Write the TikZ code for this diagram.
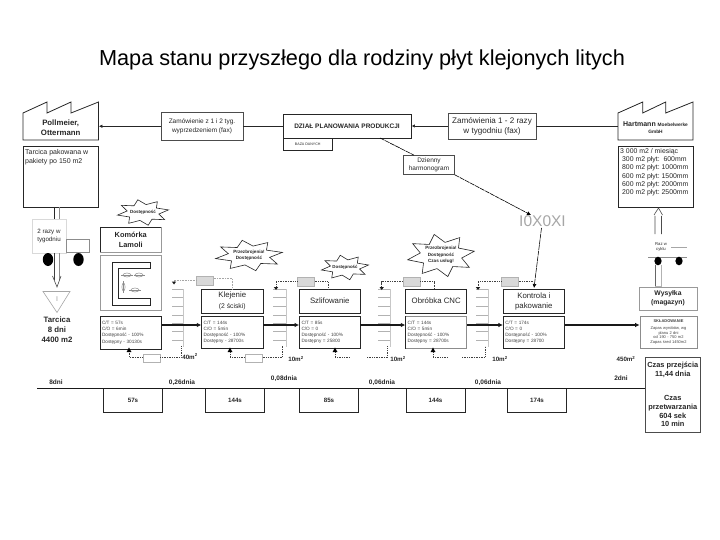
\documentclass[tikz,border=0pt]{standalone}
\usepackage{fontspec}
\setmainfont{Liberation Sans}
\usetikzlibrary{arrows.meta}
\begin{document}
\begin{tikzpicture}[x=1pt,y=-1pt,
 base/.style={inner sep=0pt,align=center,font=\fontsize{6}{8}\selectfont,text=black!85},
 bx/.style={base,draw=black!85,line width=.7pt},
 gbx/.style={base,draw=black!40,line width=.7pt},
 data/.style={base,draw=black!85,line width=.7pt,align=left,text width=\www pt-4pt,font=\fontsize{4.7}{6.2}\selectfont,text=black!75},
 gdata/.style={data,draw=black!45},
 proc/.style={bx,font=\fontsize{7.8}{10.5}\selectfont},
 lab/.style={inner sep=0pt,font=\bfseries\fontsize{6.2}{7.5}\selectfont,text=black!85},
 tlab/.style={lab,font=\bfseries\fontsize{6.5}{8}\selectfont},
 ebox/.style={base,draw=black!85,line width=.7pt,font=\bfseries\fontsize{6.2}{7}\selectfont},
 flow/.style={line width=1.1pt,black!90,-{Latex[length=4.5pt,width=4.5pt]}},
 thin arrow/.style={line width=.7pt,black!85,-{Latex[length=3.5pt,width=3.5pt]}},
 sched/.style={line width=.6pt,black,dash pattern=on 5pt off .7pt,-{Latex[length=4pt,width=4pt]}},
 wd/.style={line width=.6pt,black!55,densely dotted},
 wdb/.style={line width=.7pt,black!75,densely dotted},
 card/.style={draw=black!30,fill=black!15,line width=.5pt,inner sep=0pt,minimum width=17pt,minimum height=9pt},
 wcard/.style={draw=black!30,fill=white,line width=.5pt,inner sep=0pt,minimum width=17pt,minimum height=8pt},
 burst/.style={draw=black!85,line width=.6pt,fill=white},
 tick/.style={black!30,line width=.6pt},
 dbl/.style={black!45,line width=.7pt},
 wheel/.style={fill=black,draw=none},
 fac/.style={draw=black!85,line width=.8pt,fill=white},
]
\useasboundingbox (0,0) rectangle (720,540);
\newcommand{\bxn}[7][bx]{\pgfmathsetmacro{\cxx}{(#3+#5)/2}\pgfmathsetmacro{\cyy}{(#4+#6)/2}\pgfmathsetmacro{\www}{#5-#3}\pgfmathsetmacro{\hhh}{#6-#4}\node[#1,minimum width=\www pt,minimum height=\hhh pt] (#2) at (\cxx,\cyy) {#7};}
\newcommand{\burstat}[4]{\draw[burst] plot[samples at={0,...,15}] ({#1+(#3)*(.62+.38*mod(\x,2))*cos(\x*22.5+11)},{#2+(#4)*(.62+.38*mod(\x,2))*sin(\x*22.5+11)}) -- cycle;}

\node[font=\fontsize{21.7}{26}\selectfont] (title) at (362,59.5) {Mapa stanu przyszłego dla rodziny płyt klejonych litych};

% factories
\draw[fac] (23,113)--(47,102)--(47,113)--(71,102)--(71,113)--(98.5,102)--(98.5,140)--(23,140)--cycle;
\node[base,font=\bfseries\fontsize{7.8}{10}\selectfont] (f1) at (60.7,127.5) {Pollmeier,\\Ottermann};
\draw[fac] (618,113)--(642.7,102)--(642.7,113)--(665.7,102)--(665.7,113)--(693,102)--(693,140)--(618,140)--cycle;
\node[base,font=\bfseries\fontsize{7}{8}\selectfont] (f2) at (655.5,128) {Hartmann {\fontsize{4.8}{6}\selectfont Moebelwerke}\\[-1pt]{\fontsize{4.8}{6}\selectfont GmbH}};

\bxn{s1}{23}{146.5}{98.5}{207}{}
\node[base,align=left,anchor=north west,font=\fontsize{7}{8.8}\selectfont] (s1t) at (25,149.5) {Tarcica pakowana w\\pakiety po 150 m2};
\bxn{s2}{618}{146}{693}{207}{}
\node[base,align=left,anchor=north west,font=\fontsize{6.9}{8.15}\selectfont] (s2t) at (620,148.5) {3 000 m2 / miesiąc\\\ 300 m2 płyt:\ \ 600mm\\\ 800 m2 płyt:\ 1000mm\\\ 600 m2 płyt:\ 1500mm\\\ 600 m2 płyt:\ 2000mm\\\ 200 m2 płyt:\ 2500mm};

% top row
\bxn[bx,draw=black!70,font=\fontsize{6.5}{9.5}\selectfont]{z1}{161}{112}{243}{140.5}{Zamówienie z 1 i 2 tyg.\\wyprzedzeniem (fax)}
\bxn[bx,font=\bfseries\fontsize{6.5}{7}\selectfont,line width=.9pt]{dz}{283}{114}{411}{138}{DZIAŁ PLANOWANIA PRODUKCJI}
\bxn[bx,font=\fontsize{3.6}{5}\selectfont]{baza}{283}{138}{332.5}{150.5}{BAZA DANYCH}
\bxn[bx,draw=black!70,font=\fontsize{8.1}{10}\selectfont]{z2}{448}{113}{536}{139}{Zamówienia 1 - 2 razy\\w tygodniu (fax)}
\bxn[bx,draw=black!70,font=\fontsize{6.5}{7.8}\selectfont]{har}{403.5}{155.5}{454.5}{174.5}{Dzienny\\harmonogram}
\draw[thin arrow] (z1.west) -- (s1.east |- z1.west);
\draw[line width=.7pt,black!85] (dz.west |- z1.west) -- (z1.east);
\draw[thin arrow] (z2.west) -- (dz.east |- z2.west);
\draw[line width=.7pt,black!85] (z2.east) -- (s2.west |- z2.east);
\draw[line width=.6pt,black,dash pattern=on 5pt off .7pt] (380,138) -- (har.north east -| 414,155.5);

% heijunka
\node[inner sep=0pt,text=black!35,font=\fontsize{15.5}{15.5}\selectfont] (hei) at (542.5,221) {I0X0XI};
\draw[sched] (har.south east) -- (531,215);

% left truck
\coordinate (tl1) at (54.5,207); \coordinate (tl2) at (59,207);
\draw[dbl,black!85] (tl1) -- (54.5,219);
\draw[dbl] (tl2) -- (59,219);
\bxn[base,draw=black!15,font=\fontsize{6.2}{8.5}\selectfont,line width=.4pt]{t1}{32}{219}{66}{253}{2 razy w\\tygodniu}
\bxn[base,draw=black!45,line width=.6pt]{t1b}{66}{239}{89.5}{252.5}{}
\draw[wheel] (48,259.5) ellipse (5.2pt and 6.5pt);
\draw[wheel] (78.5,259.5) ellipse (5.2pt and 6.5pt);
\draw[black!75,line width=.7pt] (54.5,253)--(54.5,280);
\draw[black!45,line width=.7pt] (59,253)--(59,280);
\draw[black!70,line width=.6pt] (52.5,276)--(57,287)--(61,276);
\coordinate (arr1) at (57,287);
% inventory triangle
\draw[draw=black!35,line width=.6pt] (43,291.5)--(70,291.5)--(57,312.5)--cycle;
\node[inner sep=0pt,text=black!40,font=\fontsize{7}{7}\selectfont] (tri1) at (57,299) {I};
\node[base,font=\bfseries\fontsize{7.8}{10.2}\selectfont] (ta) at (57,330) {Tarcica\\8 dni\\4400 m2};

% Right truck
\node[base,font=\fontsize{4.2}{5}\selectfont] (t2) at (661,247) {Raz w\\cyklu};
\draw[black!35,line width=.6pt] (671,247)--(687,247);
\draw[black!45,line width=.7pt] (648,257)--(687,257);
\draw[wheel] (658,261) ellipse (3.6pt and 4.3pt);
\draw[wheel] (679,261) ellipse (3.6pt and 4.3pt);
\draw[black!70,line width=.6pt] (655,234)--(655,216) (661.5,234)--(661.5,216) (654,215)--(658.5,208)--(662.5,215);
\draw[black!60,line width=.7pt] (655,265)--(655,287);
\draw[black!30,line width=.7pt] (661.5,265)--(661.5,287);
\draw[black!30,line width=.7pt] (655,286)--(661.5,286);

% Komorka
\burstat{143}{212.5}{26}{13}
\node[base,font=\bfseries\fontsize{4.5}{5}\selectfont] (b1) at (143,212) {Dostępność};
\bxn[gbx,font=\bfseries\fontsize{7.4}{10}\selectfont]{kom}{100.5}{227}{161}{252}{Komórka\\Lamoli}
\draw[black!85,line width=.5pt] (100.5,227)--(161,227) (100.5,227)--(100.5,252);
\bxn[gbx]{komb}{100.5}{255}{161.5}{310}{}
\draw[black!85,line width=.7pt] (150,262)--(112,262)--(112,305)--(150,305)--(150,298)--(118.5,298)--(118.5,268)--(150,268)--cycle;
\foreach \ox/\oy/\orx/\ory in {127/275/4/2,139/275/4/2,123.5/287/1.6/4,135/290/4/2}{
  \draw[black!45,line width=.5pt] (\ox,\oy) ellipse (\orx pt and \ory pt);}
\draw[black!45,line width=.4pt] (121,275)--(133,275) (134,275)--(145,275) (129,290)--(141,290) (123.5,281)--(123.5,293);

% process boxes
\bxn[proc]{p2}{201.5}{289}{263}{313}{Klejenie\\{\fontsize{6.8}{9}\selectfont (2 ściski)}}
\bxn[proc]{p3}{299.5}{289}{360}{313}{Szlifowanie}
\bxn[proc]{p4}{405.7}{289}{466.7}{313}{Obróbka CNC}
\bxn[proc]{p5}{503.3}{289}{564.3}{313.5}{Kontrola i\\pakowanie}
\bxn[gbx,font=\bfseries\fontsize{6.8}{9.5}\selectfont]{p6}{639}{287}{697}{310}{Wysyłka\\(magazyn)}

\bxn[data]{d1}{100}{316}{161.7}{349}{C/T = 57s\\C/O = 6min\\Dostępność - 100\%\\Dostępny - 30130s}
\bxn[data]{d2}{201.7}{316}{263}{348.5}{C/T = 144s\\C/O = 5min\\Dostępność - 100\%\\Dostępny - 28700s}
\bxn[data]{d3}{299.5}{316}{360}{348.5}{C/T = 85s\\C/O = 0\\Dostępność - 100\%\\Dostępny = 25800}
\bxn[gdata]{d4}{405.7}{316}{466.7}{348.5}{C/T = 144s\\C/O = 5min\\Dostępność - 100\%\\Dostępny = 28700s}
\draw[black!85,line width=.9pt] (405.7,316)--(405.7,348.5);
\bxn[data]{d5}{503.3}{316}{564.3}{348.5}{C/T = 174s\\C/O = 0\\Dostępność - 100\%\\Dostępny = 28700}
\bxn[gdata,align=center,font=\fontsize{4}{4.7}\selectfont]{d6}{640}{316}{697}{348.5}{{\bfseries SKŁADOWANIE}\\[2pt]Zapas wyrobów, wg\\planu 2 dni\\od 190 - 750 m2\\Zapas śred 1450m2}

% kanban stacks
\foreach \xa/\xb in {172/183,273/286,378/390,476/488}{
  \foreach \yy in {289,297,306,315,323,331,340}{ \draw[tick] (\xa,\yy)--(\xb,\yy); }
  \draw[black!22,line width=.6pt] (\xb,289)--(\xb,347);
}
% flows
\coordinate (fl) at (0,325);
\draw[flow] (d1.east |- fl) -- (d2.west |- fl);
\draw[flow] (d2.east |- fl) -- (d3.west |- fl);
\draw[flow] (d3.east |- fl) -- (d4.west |- fl);
\draw[flow] (d4.east |- fl) -- (d5.west |- fl);
\draw[flow] (d5.east |- fl) -- (d6.west |- fl);

% top withdrawal loops
\node[card] (c1) at (205,280.5) {};
\node[card] (c2) at (306,281.5) {};
\node[card] (c3) at (411.5,281.5) {};
\node[card] (c4) at (510,281.5) {};
\draw[wd,black!35] (174,281) |- (c1.west);
\draw[wd,black!35] (c1.east |- 0,278) -- (232,278) -- (232,289);
\draw[wdb] (c2.west) -- (276,281.5) -- (276,287);
\draw[wdb] (c2.east) -- (328,281.5) -- (328,289);
\draw[wdb] (c3.west) -- (381.7,281.5) -- (381.7,287);
\draw[wdb] (c3.east) -- (434,281.5) -- (434,289);
\draw[wdb] (c4.west) -- (478,281.5) -- (478,287);
\draw[wdb] (c4.east) -- (533,281.5);
\foreach \ax/\ay in {174/284,276/289.5,381.7/289.5,478/289.5}{
  \fill[black!90] (\ax-2.2,\ay-2.5) -- (\ax+2.2,\ay-2.5) -- (\ax,\ay+.5) -- cycle;
}
\draw[sched] (541.5,228) -- (534,288);

% lower withdrawal loops
\node[wcard] (w1) at (151.5,358) {};
\node[wcard] (w2) at (254,358) {};
\draw[wdb] (d1.south -| 129,0) -- (129,357) -- (w1.west |- 0,357);
\draw[wdb] (w1.east |- 0,357) -- (181,357) -- (181,346);
\draw[wdb] (d2.south -| 230,0) -- (230,357) -- (w2.west |- 0,357);
\draw[wdb] (w2.east |- 0,357) -- (282.7,357) -- (282.7,346);
\draw[wdb] (d3.south -| 335,0) -- (335,357) -- (350,357);
\draw[wdb] (367,357) -- (387.7,357) -- (387.7,346);
\draw[wdb] (d4.south -| 433,0) -- (433,357) -- (448,357);
\draw[wdb] (462,357) -- (485,357) -- (485,346);
\foreach \ax in {129,230,335,433}{ \fill[black] (\ax-2.4,352) -- (\ax+2.4,352) -- (\ax,347.5) -- cycle; }

% other bursts
\burstat{249}{255.5}{34}{15.5}
\node[base,font=\bfseries\fontsize{4.6}{6}\selectfont] (b2) at (249,255) {Przezbrojenia!\\Dostępność};
\burstat{345}{267.5}{24}{12.5}
\node[base,font=\bfseries\fontsize{4.4}{5}\selectfont] (b3) at (345,267.5) {Dostępność};
\burstat{441}{255.5}{34}{21.5}
\node[base,font=\bfseries\fontsize{4.6}{6.2}\selectfont] (b4) at (441,255) {Przezbrojenia!\\Dostępność\\Czas usług!};

% inventory labels
\node[lab] (m1) at (190,356.5) {40m\textsuperscript{2}};
\node[lab] (m2) at (296,359) {10m\textsuperscript{2}};
\node[lab] (m3) at (398,359) {10m\textsuperscript{2}};
\node[lab] (m4) at (500,359) {10m\textsuperscript{2}};
\node[lab] (m5) at (626,359) {450m\textsuperscript{2}};

% timeline
\coordinate (tlL) at (37,388.3);
\bxn[ebox]{e1}{103.3}{388.3}{162.7}{412.5}{57s}
\bxn[ebox]{e2}{205.3}{388.3}{264.7}{412.5}{144s}
\bxn[ebox]{e3}{299.5}{388.3}{358.5}{412.5}{85s}
\bxn[ebox]{e4}{406}{388.3}{465}{412.5}{144s}
\bxn[ebox]{e5}{507.3}{388.3}{566.7}{412.5}{174s}
\bxn[base,draw=black!70,line width=.9pt,font=\bfseries\fontsize{7.4}{8.7}\selectfont]{cz}{645}{357}{700.5}{432}{Czas przejścia\\11,44 dnia\\[16pt]Czas\\przetwarzania\\604 sek\\10 min}
\draw[line width=.7pt,black!90] (tlL) -- (cz.west |- tlL);
\node[tlab] (l1) at (56,382.5) {8dni};
\node[tlab] (l2) at (182,382.5) {0,26dnia};
\node[tlab] (l3) at (284,378.5) {0,08dnia};
\node[tlab] (l4) at (382,382.5) {0,06dnia};
\node[tlab] (l5) at (488,382.5) {0,06dnia};
\node[tlab] (l6) at (621,378.5) {2dni};
\end{tikzpicture}
\end{document}
